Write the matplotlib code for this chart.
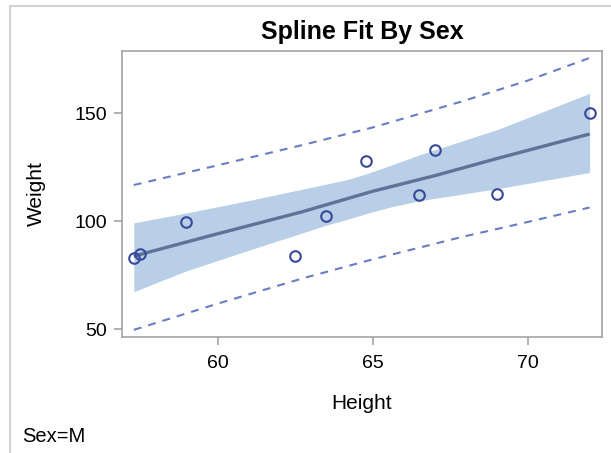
import numpy as np
import matplotlib
matplotlib.use("Agg")
import matplotlib.pyplot as plt
from matplotlib.lines import Line2D

plt.rcParams['font.family'] = ['Liberation Sans', 'DejaVu Sans']

# observed points (males)
height = [69.0, 63.5, 57.3, 62.5, 59.0, 72.0, 64.8, 67.0, 57.5, 66.5]
weight = [112.5, 102.5, 83.0, 84.0, 99.5, 150.0, 128.0, 133.0, 85.0, 112.0]

# spline fit
fit_x = [57.3, 59.8, 62.7, 65.0, 67.0, 69.1, 72.0]
fit_y = [83.8, 93.4, 104.2, 113.8, 121.0, 129.3, 140.3]

# confidence band for the mean
clm_x = [57.3, 58.2, 59.0, 61.0, 63.5, 64.2, 64.8, 65.6, 66.5, 69.07, 72.0]
clm_lo = [67.3, 72.5, 77.0, 86.5, 98.1, 100.9, 103.5, 106.6, 109.4, 115.1, 122.5]
clm_hi = [99.2, 101.6, 103.8, 109.5, 117.1, 119.3, 121.9, 125.9, 130.6, 142.6, 159.1]

# prediction limits
pl_x = [57.3, 60.0, 62.74, 65.0, 67.89, 70.0, 72.0]
pl_lo = [49.7, 61.8, 73.5, 82.3, 92.7, 99.6, 106.3]
pl_hi = [116.7, 125.8, 135.2, 143.3, 155.4, 165.0, 175.5]

fig = plt.figure(figsize=(6.11, 4.53), dpi=100)
ax = fig.add_axes([122/611, 1-337/453, (602-122)/611, (337-51)/453])

ax.fill_between(clm_x, clm_lo, clm_hi, color='#b9cee7', lw=0, zorder=1)
ax.plot(pl_x, pl_hi, color='#6a7dc4', lw=1.5, dashes=(3.8, 3.4), zorder=2)
ax.plot(pl_x, pl_lo, color='#6a7dc4', lw=1.5, dashes=(3.8, 3.4), zorder=2)
ax.plot(fit_x, fit_y, color='#5f7399', lw=2.4, solid_capstyle='butt', zorder=3)
ax.plot(height, weight, 'o', ms=7.6, mfc='none', mec='#38489a', mew=1.5, zorder=4)

ax.set_xlim(56.92, 72.40)
ax.set_ylim(46.4, 178.7)
ax.set_xticks([60, 65, 70])
ax.set_yticks([50, 100, 150])
for s in ax.spines.values():
    s.set_color('#a4a4a4')
    s.set_linewidth(1.2)
ax.tick_params(direction='out', length=6, width=1.2, color='#a4a4a4',
               labelsize=14)
ax.tick_params(axis='x', pad=7)
ax.tick_params(axis='y', pad=5)
ax.set_xlabel('Height', fontsize=15, labelpad=16)
ax.set_ylabel('Weight', fontsize=15, labelpad=20)
ax.set_title('Spline Fit By Sex', fontsize=18, fontweight='bold', pad=9)

fig.text(22/611, 1-436/453, 'Sex=M', fontsize=14.5, va='center', ha='left')

# outer panel border
fig.add_artist(Line2D([10/611, 1], [1-5.5/453, 1-5.5/453], color='#d2d2d2', lw=1.5))
fig.add_artist(Line2D([10/611, 10/611], [0, 1-5.5/453], color='#d2d2d2', lw=1.5))

fig.savefig('out.png', dpi=100)
